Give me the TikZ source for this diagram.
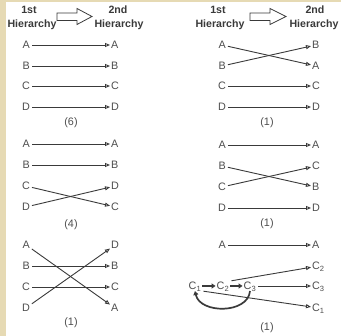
\documentclass[tikz,border=0pt]{standalone}
\usepackage{fontspec}
\setmainfont{Liberation Sans}
\usetikzlibrary{arrows.meta}
\definecolor{parch}{HTML}{E6DAB4}
\definecolor{ink}{HTML}{3A3A3A}
\definecolor{txt}{HTML}{4E4E4E}
\begin{document}
\begin{tikzpicture}[x=1pt,y=-1pt,
 lbl/.style={font=\fontsize{10.8}{12}\selectfont, text=txt, inner sep=1pt, text height=7.7pt, text depth=0pt},
 lft/.style={lbl, anchor=east},
 rgt/.style={lbl, anchor=west},
 hdr/.style={font=\bfseries\fontsize{10.6}{12}\selectfont, text=ink, inner sep=0pt, anchor=base},
 conn/.style={draw=ink, line width=0.9pt, shorten <=1pt, -{Triangle[open,length=5pt,width=4pt]}},
 chainarr/.style={draw=ink, line width=1.7pt, -{Triangle[length=4pt,width=5pt]}},
 cnt/.style={font=\fontsize{10.8}{12}\selectfont, text=txt}]
\fill[parch] (0,0) rectangle (341,336);
\fill[white] (6,2) rectangle (341,336);
\useasboundingbox (0,0) rectangle (341,336);

% ---------- headers ----------
\node[hdr] (h1a) at (29,13.5) {1st};
\node[hdr] (h1b) at (32,27.5) {Hierarchy};
\node[hdr] (h2a) at (118,13.5) {2nd};
\node[hdr] (h2b) at (119,27.5) {Hierarchy};
\draw[ink, line width=0.8pt] (57,13) -- (77,13) -- (77,8.5) -- (92,16.5) -- (77,24.5) -- (77,20.5) -- (57,20.5) -- cycle;

\node[hdr] (h3a) at (218,13.5) {1st};
\node[hdr] (h3b) at (220,27.5) {Hierarchy};
\node[hdr] (h4a) at (315,13.5) {2nd};
\node[hdr] (h4b) at (314,27.5) {Hierarchy};
\draw[ink, line width=0.8pt] (250,13) -- (270,13) -- (270,8.5) -- (286,16.5) -- (270,24.5) -- (270,20.5) -- (250,20.5) -- cycle;

% ---------- left column, group 1 ----------
\node[lft] (a1) at (31,45) {A};  \node[rgt] (a1r) at (110,45) {A};
\node[lft] (b1) at (31,66) {B};  \node[rgt] (b1r) at (110,66) {B};
\node[lft] (c1) at (31,86) {C};  \node[rgt] (c1r) at (110,86) {C};
\node[lft] (d1) at (31,107) {D}; \node[rgt] (d1r) at (110,107) {D};
\draw[conn] (a1) -- (a1r);
\draw[conn] (b1) -- (b1r);
\draw[conn] (c1) -- (c1r);
\draw[conn] (d1) -- (d1r);
\node[cnt] (n1) at (71,123) {(6)};

% ---------- left column, group 2 ----------
\node[lft] (a2) at (31,144) {A};  \node[rgt] (a2r) at (110,144) {A};
\node[lft] (b2) at (31,165) {B};  \node[rgt] (b2r) at (110,165) {B};
\node[lft] (c2) at (31,186) {C};  \node[rgt] (d2r) at (110,186) {D};
\node[lft] (d2) at (31,207) {D};  \node[rgt] (c2r) at (110,207) {C};
\draw[conn] (a2) -- (a2r);
\draw[conn] (b2) -- (b2r);
\draw[conn] (c2) -- (c2r);
\draw[conn] (d2) -- (d2r);
\node[cnt] (n2) at (71,225) {(4)};

% ---------- left column, group 3 ----------
\node[lft] (a3) at (31,245) {A};  \node[rgt] (d3r) at (110,245) {D};
\node[lft] (b3) at (31,266) {B};  \node[rgt] (b3r) at (110,266) {B};
\node[lft] (c3) at (31,287) {C};  \node[rgt] (c3r) at (110,287) {C};
\node[lft] (d3) at (31,308) {D};  \node[rgt] (a3r) at (110,308) {A};
\draw[conn] (a3) -- (a3r);
\draw[conn] (b3) -- (b3r);
\draw[conn] (c3) -- (c3r);
\draw[conn] (d3) -- (d3r);
\node[cnt] (n3) at (71,323) {(1)};

% ---------- right column, group 1 ----------
\node[lft] (a4) at (227,45) {A};  \node[rgt] (b4r) at (311,45) {B};
\node[lft] (b4) at (227,66) {B};  \node[rgt] (a4r) at (311,66) {A};
\node[lft] (c4) at (227,86) {C};  \node[rgt] (c4r) at (311,86) {C};
\node[lft] (d4) at (227,107) {D}; \node[rgt] (d4r) at (311,107) {D};
\draw[conn] (a4) -- (a4r);
\draw[conn] (b4) -- (b4r);
\draw[conn] (c4) -- (c4r);
\draw[conn] (d4) -- (d4r);
\node[cnt] (n4) at (267,123) {(1)};

% ---------- right column, group 2 ----------
\node[lft] (a5) at (227,145) {A};  \node[rgt] (a5r) at (311,145) {A};
\node[lft] (b5) at (227,166) {B};  \node[rgt] (c5r) at (311,166) {C};
\node[lft] (c5) at (227,187) {C};  \node[rgt] (b5r) at (311,187) {B};
\node[lft] (d5) at (227,208) {D};  \node[rgt] (d5r) at (311,208) {D};
\draw[conn] (a5) -- (a5r);
\draw[conn] (b5) -- (b5r);
\draw[conn] (c5) -- (c5r);
\draw[conn] (d5) -- (d5r);
\node[cnt] (n5) at (267,224) {(1)};

% ---------- right column, group 3 ----------
\node[lft] (a6) at (227,245) {A};  \node[rgt] (a6r) at (311,245) {A};
\node[lbl] (k1) at (195,286) {C\textsubscript{1}};
\node[lbl] (k2) at (223,286) {C\textsubscript{2}};
\node[lbl] (k3) at (250,286) {C\textsubscript{3}};
\node[rgt] (k2r) at (311,266) {C\textsubscript{2}};
\node[rgt] (k3r) at (311,286) {C\textsubscript{3}};
\node[rgt] (k1r) at (311,308) {C\textsubscript{1}};
\draw[conn] (a6) -- (a6r);
\draw[chainarr] (k1) -- (k2);
\draw[chainarr] (k2) -- (k3);
\draw[chainarr] (k3.south) .. controls (248,314) and (200,314) .. (k1.south);
\draw[conn] (k2.north east) -- (k2r);
\draw[conn] (k3) -- (k3r);
\draw[conn] (k1.south east) -- (k1r);
\node[cnt] (n6) at (267,328) {(1)};
\end{tikzpicture}
\end{document}
